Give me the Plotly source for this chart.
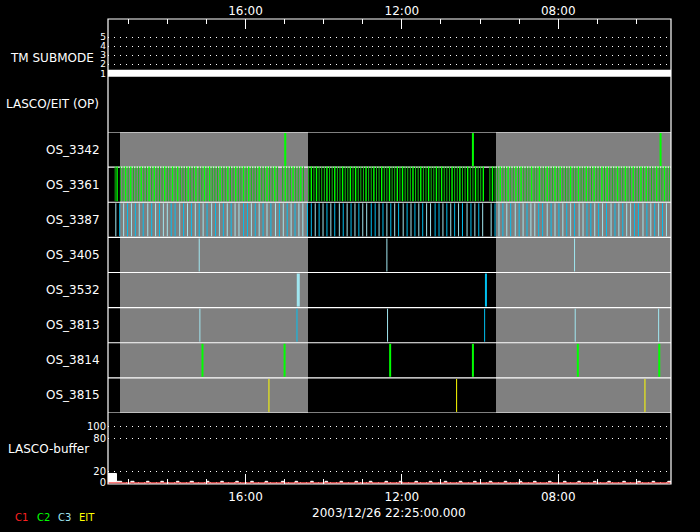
import plotly.graph_objects as go

# ---------------- data (times in clock minutes; the time axis runs 16:00 -> 08:00 left to right) ----
X_LEFT, X_RIGHT = 1171, 307
major_tick_vals = [960, 720, 480]
major_tick_text = ["16:00", "12:00", "08:00"]
minor_tick_vals = [1140, 1080, 1020, 900, 840, 780, 660, 600, 540, 420, 360]

row_names = ["OS_3342", "OS_3361", "OS_3387", "OS_3405", "OS_3532", "OS_3813", "OS_3814", "OS_3815"]

# grey (data-available) periods: (start, end)
gray_starts = [1152, 576]
gray_ends = [864, 288]

tm_times = [X_LEFT, X_RIGHT]
tm_values = [1, 1]
tm_ticks = [1, 2, 3, 4, 5]

os3342_c2 = [899, 611, 323]

os3361_times = [1160, 1157, 1152, 1148, 1144, 1140, 1136, 1132, 1128, 1124, 1120, 1116, 1112, 1108, 1104,
                1100, 1096, 1092, 1088, 1084, 1080, 1076, 1072, 1068, 1064, 1060, 1056, 1052, 1048, 1044,
                1040, 1036, 1031, 1027, 1023, 1019, 1015, 1011, 1007, 1003, 999, 995, 991, 987, 983, 979,
                975, 971, 967, 963, 959, 955, 951, 947, 943, 939, 935, 931, 927, 923, 919, 915, 911, 903,
                899, 895, 891, 887, 883, 879, 875, 871, 863, 859, 855, 851, 847, 843, 839, 835, 831, 827,
                823, 819, 815, 811, 807, 803, 799, 795, 791, 787, 783, 779, 775, 771, 767, 763, 759, 755,
                751, 747, 743, 739, 735, 731, 727, 723, 719, 715, 711, 707, 703, 699, 695, 691, 687, 683,
                679, 675, 671, 667, 663, 659, 655, 651, 647, 643, 639, 635, 631, 627, 623, 619, 615, 611,
                607, 603, 599, 595,
                585, 581, 577, 573, 569, 565, 561, 557, 553, 549, 545, 541, 537, 533, 529, 525, 521, 517,
                513, 509, 505, 501, 497, 493, 489, 485, 481, 477, 473, 469, 465, 461, 457, 453, 449, 445,
                441, 437, 433, 429, 425, 421, 417, 413, 409, 405, 401, 397, 393, 389, 385, 381, 377, 373,
                369, 365, 361, 357, 353, 349, 345, 341, 337, 333, 329, 325, 321, 317, 313, 309]
os3361_bright = [1157, 1144, 1136, 1120, 1108, 1100, 1084, 1072, 1064, 1048, 1036, 1023, 1015, 999, 987,
                 975, 963, 955, 939, 927, 915, 899, 887, 875, 859, 851, 835, 823, 811, 799, 791, 775, 763,
                 751, 739, 727, 719, 703, 691, 679, 667, 659, 643, 631, 619, 607, 595, 581, 569, 557, 545,
                 537, 521, 509, 497, 485, 477, 461, 449, 437, 425, 413, 405, 389, 377, 365, 353, 345, 329, 317]

os3387_times = [1159, 1153, 1147, 1141, 1135, 1129, 1123, 1117, 1110, 1104, 1098, 1092, 1086, 1080, 1074,
                1068, 1061, 1055, 1049, 1043, 1037, 1031, 1025, 1019, 1012, 1006, 1000, 994, 988, 982, 976,
                970, 963, 957, 951, 945, 939, 933, 927, 921, 914, 908, 902, 896, 890, 884, 878, 872, 865,
                859, 853, 847, 841, 835, 829, 823, 816, 810, 804, 798, 792, 786, 780, 774, 767, 761, 755,
                749, 743, 737, 731, 725, 718, 712, 706, 700, 694, 688, 682, 676, 669, 663, 657, 651, 645,
                639, 633, 627, 620, 614, 608, 602, 596,
                583, 577, 571, 565, 559, 553, 546, 540, 534, 528, 522, 516, 510, 504, 497, 491, 485, 479,
                473, 467, 461, 455, 448, 442, 436, 430, 424, 418, 412, 406, 399, 393, 387, 381, 375, 369,
                363, 357, 350, 344, 338, 332, 326, 320, 314]
os3387_cyan = [1153, 1141, 1129, 1117, 1104, 1092, 1074, 1068, 1055, 1043, 1031, 1019, 1006, 994, 982, 963,
               957, 945, 933, 921, 908, 896, 884, 865, 859, 847, 835, 823, 810, 798, 786, 767, 761, 749,
               737, 725, 712, 700, 688, 669, 663, 651, 639, 627, 614, 602, 577, 565, 553, 540, 528, 510,
               504, 491, 479, 467, 455, 436, 430, 418, 406, 393, 381, 363, 357, 344, 332, 320]

os3405_c3 = [1031, 743, 455]
os3532_c3_wide = [879]
os3532_c3 = [591]
os3813_c3_light = [1030, 742, 454, 326]
os3813_c3 = [881, 593]
os3814_c2 = [1026, 900, 738, 611, 450, 325]
os3815_eit = [924, 636, 347]

buffer_times = [1171, 1158, 1150, 1136, 1131, 1112, 1108, 1090, 1086, 1066, 1062, 1045, 1040, 1020, 1016,
                998, 994, 975, 971, 952, 948, 930, 926, 905, 901, 884, 880, 860, 856, 838, 834, 815, 811,
                792, 788, 770, 766, 746, 742, 724, 720, 700, 696, 678, 674, 655, 651, 632, 628, 610, 606,
                586, 582, 563, 559, 540, 536, 518, 514, 495, 491, 472, 468, 450, 446, 426, 422, 404, 400,
                381, 377, 358, 354, 336, 332, 312, 307]
buffer_values = [17, 3, 0, 3, 0, 3, 0, 3, 0, 3, 0, 3, 0, 3, 0, 3, 0, 3, 0, 3, 0, 3, 0, 3, 0, 3, 0, 3, 0,
                 3, 0, 3, 0, 3, 0, 3, 0, 3, 0, 3, 0, 3, 0, 3, 0, 3, 0, 3, 0, 3, 0, 3, 0, 3, 0, 3, 0, 3,
                 0, 3, 0, 3, 0, 3, 0, 3, 0, 3, 0, 3, 0, 3, 0, 3, 0, 3, 3]
c1_times = [X_LEFT, X_RIGHT]
c1_values = [0, 0]
buffer_ticks = [0, 20, 80, 100]

legend_labels = ["C1", "C2", "C3", "EIT"]
legend_colors = ["#ff2020", "#00ff00", "#a0e6f0", "#ffff00"]
date_label = "2003/12/26 22:25:00.000"

# ---------------- styling ----------------
GRAY = "#808080"
GREEN = "#00ff00"
GREEN_DIM = "#10c010"
LCYAN = "#a0e6f0"
CYAN = "#00c0f0"
YELLOW = "#ffff00"
FONT = "DejaVu Sans"

fig = go.Figure()

# grey availability bars in every OS row
for k, name in enumerate(row_names):
    fig.add_trace(go.Bar(
        y=[k + 0.5] * len(gray_starts), base=gray_ends,
        x=[s - e for s, e in zip(gray_starts, gray_ends)],
        orientation="h", width=1.0, marker=dict(color=GRAY, line=dict(width=0)),
        xaxis="x", yaxis="y3", hoverinfo="skip", showlegend=False))

# row separators
sx, sy = [], []
for k in range(len(row_names) + 1):
    sx += [X_LEFT, X_RIGHT, None]
    sy += [k, k, None]
fig.add_trace(go.Scatter(x=sx, y=sy, mode="lines", line=dict(color="white", width=1.2),
                         xaxis="x", yaxis="y3", hoverinfo="skip", showlegend=False))


def vlines(times, row, color, width, lo=0.0, hi=1.0):
    xs, ys = [], []
    for t in times:
        xs += [t, t, None]
        ys += [row + lo, row + hi, None]
    return go.Scatter(x=xs, y=ys, mode="lines", line=dict(color=color, width=width),
                      xaxis="x", yaxis="y3", hoverinfo="skip", showlegend=False)


fig.add_trace(vlines(os3342_c2, 0, GREEN, 2, 0.03, 0.97))
dim3361 = [t for t in os3361_times if t not in os3361_bright]
fig.add_trace(vlines(dim3361, 1, GREEN_DIM, 1, -0.02, 0.97))
fig.add_trace(vlines(os3361_bright, 1, GREEN, 1.4, -0.02, 0.97))
light3387 = [t for t in os3387_times if t not in os3387_cyan]
fig.add_trace(vlines(light3387, 2, LCYAN, 1, 0.03, 0.97))
fig.add_trace(vlines(os3387_cyan, 2, CYAN, 1, 0.03, 0.97))
fig.add_trace(vlines(os3405_c3, 3, LCYAN, 1, 0.03, 0.97))
fig.add_trace(vlines(os3532_c3_wide, 4, LCYAN, 3, 0.03, 0.97))
fig.add_trace(vlines(os3532_c3, 4, CYAN, 2, 0.03, 0.97))
fig.add_trace(vlines(os3813_c3_light, 5, LCYAN, 1, 0.03, 0.97))
fig.add_trace(vlines(os3813_c3, 5, CYAN, 1, 0.03, 0.97))
fig.add_trace(vlines(os3814_c2, 6, GREEN, 2, 0.03, 0.97))
fig.add_trace(vlines(os3815_eit, 7, YELLOW, 1, 0.03, 0.97))

# TM submode
fig.add_trace(go.Scatter(x=tm_times, y=tm_values, mode="lines", line=dict(color="white", width=7),
                         xaxis="x", yaxis="y", hoverinfo="skip", showlegend=False))

# LASCO buffer
fig.add_trace(go.Scatter(x=buffer_times, y=buffer_values, mode="lines", line=dict(color="white", width=1, shape="hv"),
                         fill="tozeroy", fillcolor="white",
                         xaxis="x2", yaxis="y4", hoverinfo="skip", showlegend=False))
fig.add_trace(go.Scatter(x=c1_times, y=c1_values, mode="lines", line=dict(color="#ff0000", width=1),
                         xaxis="x2", yaxis="y4", hoverinfo="skip", showlegend=False))

axis_font = dict(family=FONT, size=12, color="white")
xcommon = dict(range=[X_LEFT, X_RIGHT], tickmode="array", tickvals=major_tick_vals, ticktext=major_tick_text,
               ticks="inside", ticklen=10, tickcolor="white", tickwidth=1, showgrid=False, zeroline=False,
               showline=False, tickfont=axis_font, automargin=False,
               minor=dict(tickvals=minor_tick_vals, ticks="inside", ticklen=5, tickcolor="white",
                          tickwidth=1, showgrid=False))

D_TM = [0.8753, 1.0]
D_OS = [0.1527, 0.7570]
D_BUF = [0.0, 0.1527]

fig.update_layout(
    width=700, height=532,
    margin=dict(l=108, r=29, t=19, b=48, pad=0, autoexpand=False),
    paper_bgcolor="black", plot_bgcolor="black",
    font=dict(family=FONT, size=12, color="white"),
    barmode="overlay", bargap=0,
    xaxis=dict(anchor="y", side="top", ticklabelstandoff=1, **xcommon),
    xaxis2=dict(anchor="y4", side="bottom", matches="x", ticklabelstandoff=4, **xcommon),
    yaxis=dict(domain=D_TM, anchor="x", range=[0.6, 7], tickmode="array", tickvals=tm_ticks,
               ticktext=[str(v) for v in tm_ticks], ticks="", showgrid=True, gridcolor="white",
               griddash="1px,5px", gridwidth=1, zeroline=False, showline=False, automargin=False,
               tickfont=dict(family=FONT, size=9, color="white"), ticklabelstandoff=1),
    yaxis3=dict(domain=D_OS, anchor="x", range=[len(row_names), 0], showticklabels=False, ticks="",
                showgrid=False, zeroline=False, showline=False, automargin=False),
    yaxis4=dict(domain=D_BUF, anchor="x2", range=[-1.8, 125], tickmode="array", tickvals=buffer_ticks,
                ticktext=[str(v) for v in buffer_ticks], ticks="", showgrid=True, gridcolor="white",
                griddash="1px,5px", gridwidth=1, zeroline=False, showline=False, automargin=False,
                tickfont=dict(family=FONT, size=10, color="white"), ticklabelstandoff=1),
)

# frame
fig.add_shape(type="rect", xref="paper", yref="paper", x0=0, x1=1, y0=0, y1=1,
              line=dict(color="white", width=1.2), fillcolor="rgba(0,0,0,0)", layer="above")

PW = 563.0
def px_x(px):
    return (px - 108) / PW

annots = []
for k, name in enumerate(row_names):
    annots.append(dict(text=name, xref="paper", yref="y3", x=px_x(102), y=k + 0.5, xanchor="right",
                       yanchor="middle", showarrow=False, font=axis_font))
annots.append(dict(text="TM SUBMODE", xref="paper", yref="paper", x=px_x(96), y=(484 - 58) / 465.0,
                   xanchor="right", yanchor="middle", showarrow=False, font=axis_font))
annots.append(dict(text="LASCO/EIT (OP)", xref="paper", yref="paper", x=px_x(101), y=(484 - 104) / 465.0,
                   xanchor="right", yanchor="middle", showarrow=False, font=axis_font))
annots.append(dict(text="LASCO-buffer", xref="paper", yref="paper", x=px_x(91), y=(484 - 449) / 465.0,
                   xanchor="right", yanchor="middle", showarrow=False, font=axis_font))
annots.append(dict(text=date_label, xref="paper", yref="paper", x=px_x(389), y=(484 - 513) / 465.0,
                   xanchor="center", yanchor="middle", showarrow=False, font=axis_font))
leg_x = [13, 35, 56, 77]
for lbl, col, lx in zip(legend_labels, legend_colors, leg_x):
    annots.append(dict(text=lbl, xref="paper", yref="paper", x=px_x(lx), y=(484 - 517) / 465.0,
                       xanchor="left", yanchor="middle", showarrow=False,
                       font=dict(family=FONT, size=10, color=col)))
fig.update_layout(annotations=annots)

fig.write_html("out.html", config={"displayModeBar": False},
               post_script="document.body.style.margin='0';")
